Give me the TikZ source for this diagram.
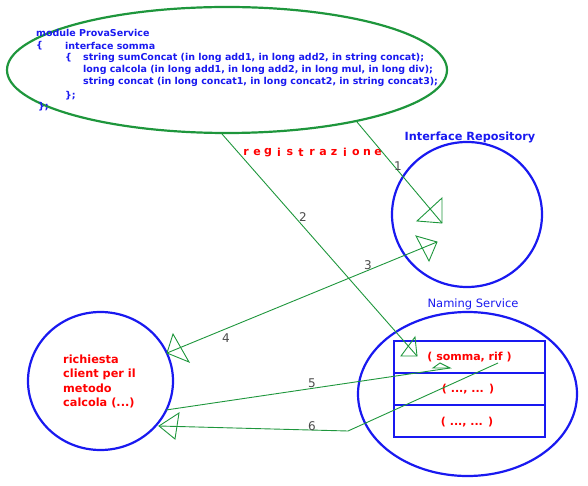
\documentclass[tikz,border=0pt]{standalone}
\usepackage{fontspec}
\setmainfont{DejaVu Sans}
\usetikzlibrary{shapes.geometric}
\definecolor{grn}{RGB}{30,150,60}
\definecolor{blu}{RGB}{25,25,240}
\definecolor{rd}{RGB}{255,0,0}
\definecolor{gry}{RGB}{75,75,75}
\begin{document}
\begin{tikzpicture}[x=1pt,y=-1pt,
  bluering/.style={ellipse, draw=blu, line width=2.2pt, inner sep=0pt},
  greenring/.style={ellipse, draw=grn, line width=2.2pt, inner sep=0pt},
  link/.style={draw=grn, line width=0.9pt},
  head/.style={draw=grn, line width=0.9pt, line join=miter},
  num/.style={text=gry, font=\fontsize{12}{12}\selectfont, inner sep=0pt},
  code/.style={text=blu, font=\bfseries\fontsize{9.5}{12}\selectfont, anchor=west, inner sep=0pt},
  title/.style={text=blu, font=\fontsize{11.5}{12}\selectfont, inner sep=0pt},
  cell/.style={draw=blu, line width=2.2pt, minimum width=151pt, minimum height=32pt, inner sep=0pt},
  regl/.style={text=rd, font=\bfseries\fontsize{11}{12}\selectfont, inner sep=0pt}
]
\useasboundingbox (0,0) rectangle (588,486);

% main shapes
\node[greenring, minimum width=440pt, minimum height=126pt] (idl) at (227,70) {};
\node[bluering, minimum width=150pt, minimum height=145pt] (ir) at (467,214.5) {};
\node[bluering, minimum width=145pt, minimum height=138pt] (cl) at (100.5,381) {};
\node[bluering, minimum width=219pt, minimum height=164pt] (ns) at (467.5,394) {};

% titles
\node[title, font=\bfseries\fontsize{11.3}{12}\selectfont] (irt) at (470,137) {Interface Repository};
\node[title] (nst) at (473,304) {Naming Service};

% IDL text
\node[code] (c1) at (36,33) {module ProvaService};
\node[code] (c2a) at (36,46) {\{};
\node[code] (c2) at (65,46) {interface somma};
\node[code] (c3a) at (65,58) {\{};
\node[code] (c3) at (83,58) {string sumConcat (in long add1, in long add2, in string concat);};
\node[code] (c4) at (83,70) {long calcola (in long add1, in long add2, in long mul, in long div);};
\node[code] (c5) at (83,82) {string concat (in long concat1, in long concat2, in string concat3);};
\node[code] (c6) at (65,95.5) {\};};
\node[code] (c7) at (38,107) {\};};

% client text
\node[regl, anchor=west, align=left, font=\bfseries\fontsize{11.3}{14.3}\selectfont] (clt) at (63,381.5) {richiesta\\client per il\\metodo\\calcola (...)};

% table
\node[cell] (r1) at (469.5,357) {};
\node[cell] (r2) at (469.5,389) {};
\node[cell] (r3) at (469.5,421) {};
\node[regl] (r1t) at (469.5,357) {( somma, rif )};
\node[regl] (r2t) at (468,389) {( ..., ... )};
\node[regl] (r3t) at (467,422) {( ..., ... )};

% registrazione
\foreach \ch [count=\i from 0] in {r,e,g,i,s,t,r,a,z,i,o,n,e}
  \node[regl] (rg\i) at (246+\i*11,152.7) {\ch};

% connector end points
\coordinate (a1) at (357,122);
\coordinate (b1) at (442,223);
\coordinate (a2) at (222,134);
\coordinate (b2) at (417,356);
\coordinate (a3) at (167,353);
\coordinate (b3) at (437,242);
\coordinate (a5) at (166,410);
\coordinate (b5) at (450,368);
\coordinate (a6) at (498,363);
\coordinate (k6) at (348,431);
\coordinate (b6) at (159,426);

\draw[link] (a1) -- (b1);
\draw[link] (a2) -- (b2);
\draw[link] (a3) -- (b3);
\draw[link] (a5) -- (b5);
\draw[link] (a6) -- (k6) -- (b6);

% arrow heads (open triangles)
\draw[head] (b1) -- (417,221) -- (442,198) -- cycle;
\draw[head] (b2) -- (401,356) -- (415,337) -- cycle;
\draw[head] (b3) -- (416,236) -- (429,261) -- cycle;
\draw[head] (a3) -- (173,334) -- (189,362) -- cycle;
\draw[head] (b5) -- (433,368) -- (440,363) -- cycle;
\draw[head] (b6) -- (179,413) -- (175,439) -- cycle;

% numbers
\node[num] (n1) at (398,166) {1};
\node[num] (n2) at (303,217) {2};
\node[num] (n3) at (368,265) {3};
\node[num] (n4) at (226,338) {4};
\node[num] (n5) at (312,383) {5};
\node[num] (n6) at (312,426) {6};
\end{tikzpicture}
\end{document}
